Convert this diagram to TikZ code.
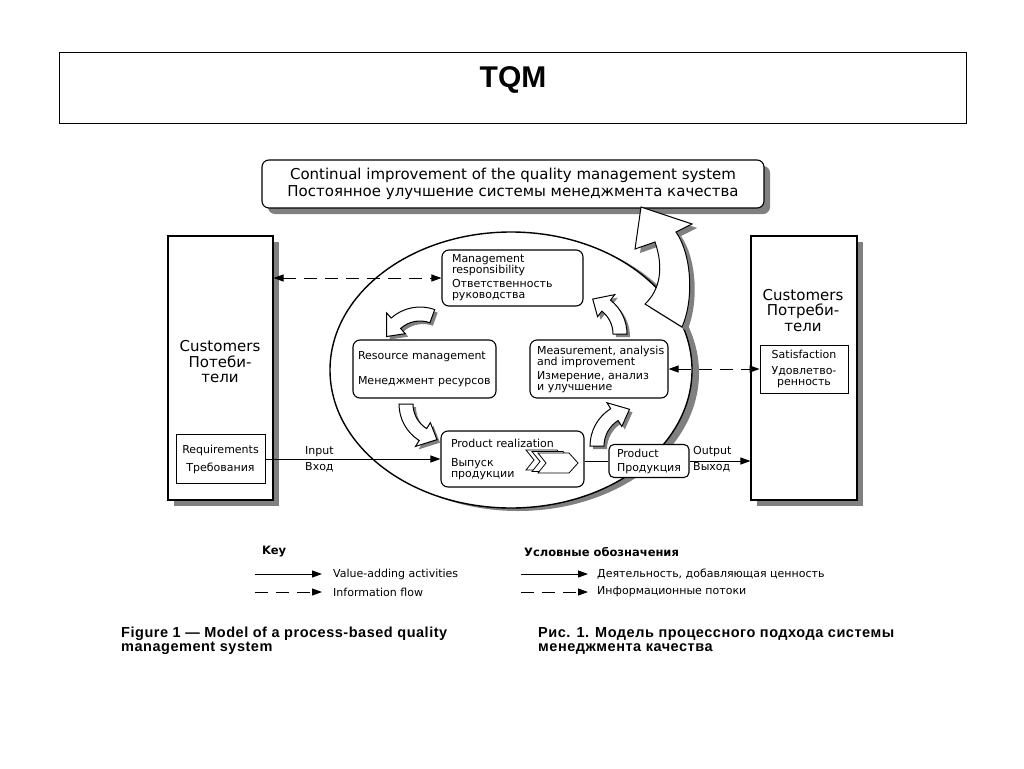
\documentclass[tikz,border=0pt]{standalone}
\usepackage{fontspec}
\setmainfont{DejaVu Sans}
\newfontfamily\arialf{Liberation Sans}
\newfontfamily\arialsp[LetterSpace=3.6]{Liberation Sans}
\usetikzlibrary{shadows,arrows.meta,calc}
\newcommand\sm{\fontsize{11pt}{11pt}\selectfont}
\newcommand\cuf{\fontsize{15pt}{15.5pt}\selectfont}
\newcommand\tpf{\fontsize{15pt}{17pt}\selectfont}
\newcommand\capf{\arialsp\bfseries\fontsize{14.5pt}{14pt}\selectfont}
\newcommand\cycarrow[5]{%
 \pgfmathsetmacro\cyro{#2+7}\pgfmathsetmacro\cyri{#2-7}%
 \pgfmathsetmacro\cyho{#2+14}\pgfmathsetmacro\cyhi{#2-14}%
 \path[fill=black!50, shift={(#1)}, xshift=3pt, yshift=-3pt] (#3:\cyro) arc[start angle=#3, end angle=#4, radius=\cyro] -- (#4:\cyho) -- (#5:#2) -- (#4:\cyhi) -- (#4:\cyri) arc[start angle=#4, end angle=#3, radius=\cyri] -- cycle;
 \path[blockarr, shift={(#1)}] (#3:\cyro) arc[start angle=#3, end angle=#4, radius=\cyro] -- (#4:\cyho) -- (#5:#2) -- (#4:\cyhi) -- (#4:\cyri) arc[start angle=#4, end angle=#3, radius=\cyri] -- cycle;}
\begin{document}
\begin{tikzpicture}[x=1pt,y=-1pt,
  box/.style={draw, line width=1.1pt, fill=white, inner sep=0pt},
  rbox/.style={box, rounded corners=7pt},
  thinbox/.style={draw, line width=0.9pt, fill=white, inner sep=0pt},
  shad/.style={drop shadow={shadow xshift=6pt, shadow yshift=-6pt, fill=black!50, opacity=1}},
  blockarr/.style={fill=white, draw=black, line width=1pt, line join=miter},
  valarr/.style={line width=1pt, -{Triangle[length=10pt,width=7pt]}},
  infarr/.style={line width=1pt, dash pattern=on 13pt off 8pt, -{Triangle[length=10pt,width=7pt]}},
  infarr2/.style={line width=1pt, dash pattern=on 13pt off 8pt, {Triangle[length=10pt,width=7pt]}-{Triangle[length=10pt,width=7pt]}},
  lbl/.style={font=\sm, anchor=west, inner sep=0pt}]
\path[use as bounding box, fill=white] (0,0) rectangle (1024,768);

% title
\node[draw, line width=1pt, minimum width=907pt, minimum height=70pt, inner sep=0pt] (titlebox) at (512.5,88) {};
\node[font=\arialf\bfseries\fontsize{30pt}{30pt}\selectfont, inner sep=0pt] (title) at (513,80) {TQM};

% top box
\node[rbox, shad, minimum width=502pt, minimum height=48pt, align=center, font=\tpf] (ci) at (513,184)
  {Continual improvement of the quality management system\\Постоянное улучшение системы менеджмента качества};

% customers
\node[box, shad, minimum width=105pt, minimum height=264pt] (lc) at (220.5,368) {};
\node[font=\cuf, align=center, inner sep=0pt] (lct) at (220,362) {Customers\\Потеби-\\тели};
\node[thinbox, minimum width=89pt, minimum height=49pt, align=center, font=\sm] (req) at (220.5,459) {Requirements\\[7pt]Требования};

\node[box, shad, minimum width=106pt, minimum height=264pt] (rc) at (804,368) {};
\node[font=\cuf, align=center, inner sep=0pt] (rct) at (803,310.5) {Customers\\Потреби-\\тели};
\node[thinbox, minimum width=88pt, minimum height=48pt, align=center, font=\sm] (sat) at (804,369) {Satisfaction\\[5pt]Удовлетво-\\ренность};

% ellipse
\fill[black!50] (518,373) ellipse[x radius=181, y radius=138];
\draw[line width=1.4pt, fill=white] (511,370) ellipse[x radius=181, y radius=138];

% big arrow
\path[fill=black!50, xshift=5pt, yshift=-4pt] (641,207) -- (692,224) -- (676,232) .. controls (692,255) and (694,300) .. (682,327) -- (645,304) .. controls (660,290) and (664,268) .. (655,242) -- (635,249) -- cycle;
\path[blockarr] (641,207) -- (692,224) -- (676,232) .. controls (692,255) and (694,300) .. (682,327) -- (645,304) .. controls (660,290) and (664,268) .. (655,242) -- (635,249) -- cycle;

% small cycle arrows
\cycarrow{420,350}{36}{-70}{-132}{-158}
\cycarrow{442,404}{36}{180}{122}{98}
\cycarrow{634,446}{37}{180}{238}{263}
\cycarrow{584,334}{36}{0}{-52}{-76}

% process boxes
\node[rbox, minimum width=141pt, minimum height=56pt, text width=121pt, inner xsep=10pt, align=left, font=\sm] (mgmt) at (512.5,278)
  {Management\\responsibility\\[3pt]Ответственность\\руководства};
\node[rbox, minimum width=143pt, minimum height=58pt, text width=133pt, inner xsep=5pt, align=left, font=\sm] (res) at (424.5,369)
  {\mbox{Resource management}\\[14pt]\mbox{Менеджмент ресурсов}};
\node[rbox, minimum width=138pt, minimum height=58pt, text width=124pt, inner xsep=7pt, align=left, font=\sm] (meas) at (599,369)
  {\mbox{Measurement, analysis}\\and improvement\\[3pt]Измерение, анализ\\и улучшение};
\node[rbox, minimum width=143pt, minimum height=56pt, text width=123pt, inner xsep=10pt, align=left, font=\sm] (prod) at (512.5,459)
  {Product realization\\[8pt]Выпуск\\продукции};
\node[rbox, rounded corners=5pt, minimum width=80pt, minimum height=33pt, text width=64pt, inner xsep=8pt, align=left, font=\sm] (pout) at (649,461)
  {Product\\[3pt]\mbox{Продукция}};

% chevrons
\foreach \dx/\dy in {-12/-3,-6/-1.5,0/0}{
  \path[fill=white, draw=black, line width=0.8pt, shift={(\dx,\dy)}] (538,453) -- (569,453) -- (578,463) -- (569,473) -- (538,473) -- (546,463) -- cycle;
}

% connectors
\draw[valarr] (req.east) -- (req.east -| prod.west);
\draw[line width=1pt] (prod.east |- pout.west) -- (pout.west);
\draw[valarr] (pout.east) -- (pout.east -| rc.west);
\draw[infarr2] (mgmt.west -| lc.east) -- (mgmt.west);
\draw[infarr2] (meas.east) -- (meas.east -| sat.west);

\node[lbl] (inl) at (305,452) {Input};
\node[lbl] (inr) at (305,467) {Вход};
\node[lbl] (outl) at (693,452) {Output};
\node[lbl] (outr) at (693,467) {Выход};

% legend
\node[lbl, font=\fontsize{11.5pt}{12pt}\selectfont\bfseries] (key) at (262,552) {Key};
\coordinate (k1a) at (255,574); \coordinate (k1b) at (322,574);
\coordinate (k2a) at (255,592); \coordinate (k2b) at (322,592);
\draw[valarr] (k1a) -- (k1b);
\draw[infarr] (k2a) -- (k2b);
\node[lbl] (k1t) at (333,574) {Value-adding activities};
\node[lbl] (k2t) at (333,592) {Information flow};

\node[lbl, font=\fontsize{11.5pt}{12pt}\selectfont\bfseries] (keyr) at (524,552) {Условные обозначения};
\coordinate (k3a) at (521,574); \coordinate (k3b) at (588,574);
\coordinate (k4a) at (521,592); \coordinate (k4b) at (588,592);
\draw[valarr] (k3a) -- (k3b);
\draw[infarr] (k4a) -- (k4b);
\node[lbl] (k3t) at (597,574) {Деятельность, добавляющая ценность};
\node[lbl] (k4t) at (597,592) {Информационные потоки};

% captions
\node[font=\capf, align=left, anchor=north west, inner sep=0pt] (capl) at (121,627) {Figure 1 — Model of a process-based quality\\management system};
\node[font=\capf, align=left, anchor=north west, inner sep=0pt] (capr) at (538,627) {Рис. 1. Модель процессного подхода системы\\менеджмента качества};
\end{tikzpicture}
\end{document}
